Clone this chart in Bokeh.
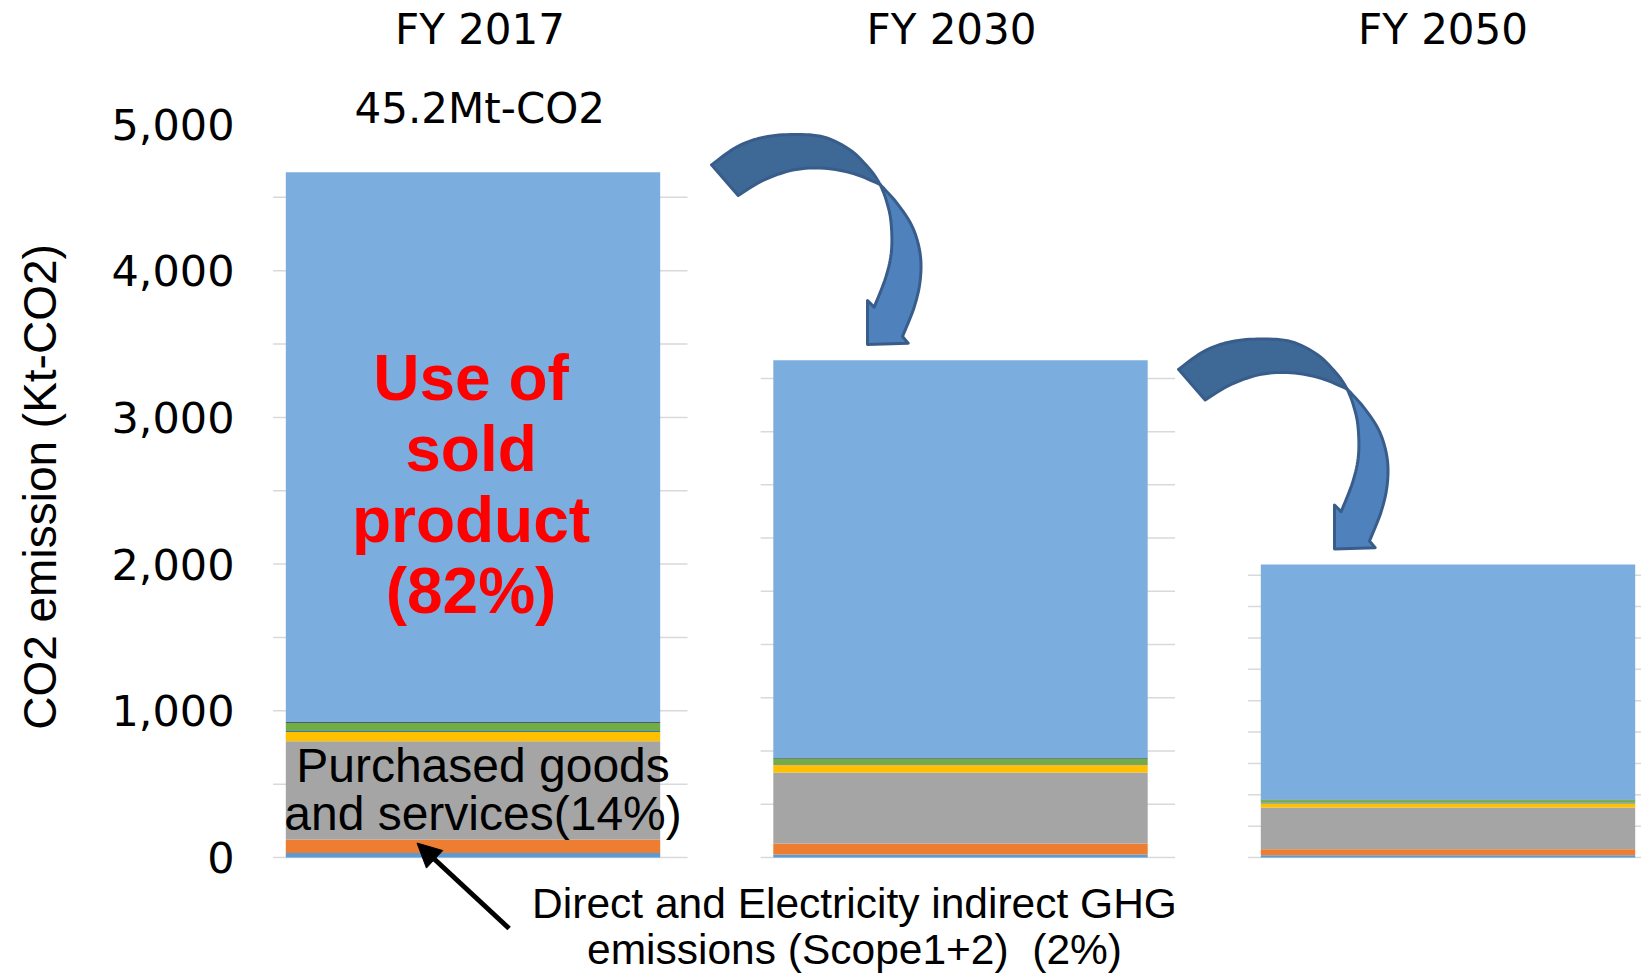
import math
from bokeh.plotting import figure
from bokeh.models import (Range1d, FixedTicker, LinearAxis, Arrow, NormalHead,
                          NumeralTickFormatter, ColumnDataSource)
from bokeh.embed import file_html
from bokeh.resources import INLINE
from bokeh.core.properties import value

# ---------------- data (Kt-CO2 on the left axis scale) ----------------
years = ["FY 2017", "FY 2030", "FY 2050"]
categories = ["Scope 1", "Scope 2", "Purchased goods and services",
              "Other Scope 3 (a)", "Other Scope 3 (b)", "Other Scope 3 (c)",
              "Other Scope 3 (d)", "Use of sold product"]
scope1 = [31, 20, 16]
scope2 = [91, 76, 41]
purchased = [670, 484, 284]
other_a = [63, 51, 27]
other_b = [7, 5, 5]
other_c = [55, 37, 18]
other_d = [7, 5, 4]
use_sold = [3747, 2712, 1602]
y_ticks = [0, 1000, 2000, 3000, 4000, 5000]
total_2017_label = "45.2Mt-CO2"
use_label = "Use of\nsold\nproduct\n(82%)"
purchased_label = "Purchased goods\nand services(14%)"
scope_label = "Direct and Electricity indirect GHG\nemissions (Scope1+2)\u00a0 (2%)"

colors = ["#5B9BD5", "#ED7D31", "#A5A5A5", "#FFC000", "#4472C4", "#70AD47", "#4D5B6C", "#7BAEDE"]

# ---------------- layout helpers (page pixel -> data) ----------------
UNIT_PX = 487.5        # pixels between bar centres
X_CENTER0 = 472.5      # page x of first bar centre
ZERO_PX = 857.0        # page y of value 0
PX_PER_KT = 146.7 / 1000.0


def fx(X):
    return (X - X_CENTER0) / UNIT_PX


def fy(Y):
    return (ZERO_PX - Y) / PX_PER_KT


W, H = 1641, 973
FRAME_L = 250

p = figure(width=W, height=H, output_backend="svg", toolbar_location=None,
           x_range=Range1d(fx(FRAME_L), fx(W)),
           y_range=Range1d(fy(H), fy(0)),
           min_border_left=FRAME_L, min_border_right=0,
           min_border_top=0, min_border_bottom=0,
           x_axis_location=None, y_axis_location=None)
p.outline_line_color = None
p.background_fill_color = "white"
p.border_fill_color = "white"
p.grid.visible = False

# left value axis
yax = LinearAxis(ticker=FixedTicker(ticks=y_ticks),
                 formatter=NumeralTickFormatter(format="0,0"),
                 axis_label="CO2 emission (Kt-CO2)",
                 axis_line_color=None, major_tick_line_color=None, minor_tick_line_color=None,
                 major_label_text_font="DejaVu Sans", major_label_text_font_size="43px",
                 major_label_text_color="#000000", major_label_standoff=10,
                 axis_label_text_font="Liberation Sans", axis_label_text_font_size="46px",
                 axis_label_text_font_style="normal", axis_label_text_color="#000000",
                 axis_label_standoff=42)
p.add_layout(yax, "left")

xs = list(range(len(years)))

# ---------------- per-panel gridlines (each panel is the same chart drawn at its own scale) ----------------
stack = [scope1, scope2, purchased, other_a, other_b, other_c, other_d, use_sold]
totals = [sum(s[i] for s in stack) for i in range(len(years))]
gx0, gx1, gy = [], [], []
for i in xs:
    step = 500.0 * totals[i] / totals[0]
    for j in range(10):
        gx0.append(i - 0.41)
        gx1.append(i + 0.44)
        gy.append(step * j)
p.segment(x0=gx0, y0=gy, x1=gx1, y1=gy, line_color="#D9D9D9", line_width=1.5)

# ---------------- stacked bars ----------------
keys = ["s1", "s2", "pg", "oa", "ob", "oc", "od", "us"]
src = ColumnDataSource(dict(x=xs, **{k: v for k, v in zip(keys, stack)}))
p.vbar_stack(keys, x="x", width=0.768, fill_color=colors, line_color=None, source=src)

# ---------------- titles and texts ----------------
p.text(x=xs, y=[fy(29)] * len(xs), x_offset=[7, -9, -5], text=years, text_font=value("DejaVu Sans"),
       text_font_size="42px", text_color="#000000", text_align="center", text_baseline="middle")
p.text(x=[0], y=[fy(108)], x_offset=6.8, text=[total_2017_label], text_font=value("DejaVu Sans"),
       text_font_size="42px", text_color="#000000",
       text_align="center", text_baseline="middle")
p.text(x=[0], y=[fy(484)], x_offset=-2, text=[use_label], text_font=value("Liberation Sans"),
       text_font_style="bold", text_font_size="64px", text_color="#FF0000",
       text_align="center", text_baseline="middle", text_line_height=0.99)
p.text(x=[0], y=[fy(789)], x_offset=10, text=[purchased_label], text_font=value("Liberation Sans"),
       text_font_size="48px", text_color="#000000",
       text_align="center", text_baseline="middle", text_line_height=0.9)
p.text(x=[fx(854)], y=[fy(926)], text=[scope_label], text_font=value("Liberation Sans"),
       text_font_size="42.5px", text_color="#000000", text_align="center", text_baseline="middle",
       text_line_height=0.97)

p.add_layout(Arrow(end=NormalHead(size=24, fill_color="black", line_color="black"),
                   x_start=fx(508.6), y_start=fy(928), x_end=fx(416.5), y_end=fy(842.5),
                   line_width=5, line_color="black"))


# ---------------- curved block arrows ----------------
def smooth(pts, n=8):
    out = []
    P = [pts[0]] + pts + [pts[-1]]
    for i in range(1, len(P) - 2):
        p0, p1, p2, p3 = P[i - 1], P[i], P[i + 1], P[i + 2]
        for k in range(n):
            t = k / n
            t2, t3 = t * t, t * t * t
            pt = []
            for d in range(2):
                pt.append(0.5 * ((2 * p1[d]) + (-p0[d] + p2[d]) * t
                                 + (2 * p0[d] - 5 * p1[d] + 4 * p2[d] - p3[d]) * t2
                                 + (-p0[d] + 3 * p1[d] - 3 * p2[d] + p3[d]) * t3))
            out.append(tuple(pt))
    out.append(pts[-1])
    return out


outer_upper = [(42, 133), (120, 78), (200, 50), (290, 42), (380, 50), (460, 90), (520, 150), (548, 192)]
inner_upper = [(548, 192), (470, 160), (380, 143), (290, 148), (200, 178), (122, 225)]
right_lower = [(548, 192), (600, 250), (645, 320), (668, 400), (668, 480), (650, 560), (615, 648)]
head = [(632, 668), (510, 672), (510, 540), (530, 560)]
left_lower = [(530, 560), (565, 470), (582, 390), (580, 300), (565, 235), (548, 192)]

upper_shape = smooth(outer_upper) + smooth(inner_upper)[1:]
lower_shape = smooth(right_lower) + head + smooth(left_lower)[1:]

for ox, oy in [(697, 120), (1164, 324.5)]:
    for shape, fill in [(upper_shape, "#3E6896"), (lower_shape, "#4F81BD")]:
        X = [fx(ox + a / 3.0) for a, b in shape]
        Y = [fy(oy + b / 3.0) for a, b in shape]
        p.patch(X, Y, fill_color=fill, line_color="#385D8A", line_width=3, line_join="round")

open("out.html", "w").write(file_html(p, INLINE))
